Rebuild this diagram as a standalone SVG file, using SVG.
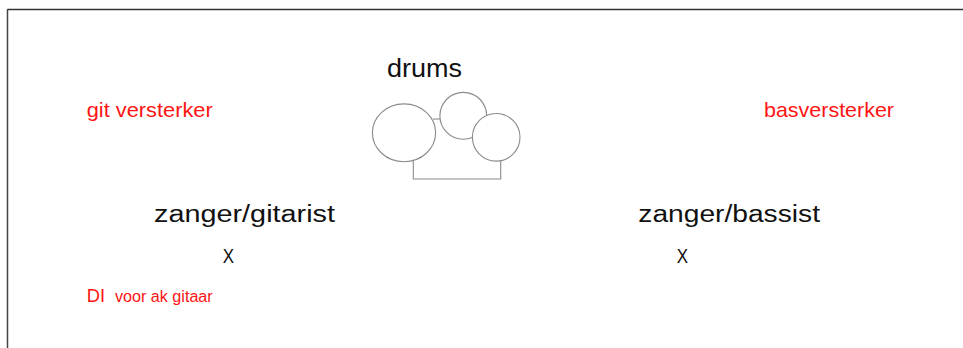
<svg xmlns="http://www.w3.org/2000/svg" width="963" height="348" viewBox="0 0 963 348">
  <style>
    text { font-family: "Liberation Sans", Arial, sans-serif; }
    .lbl { fill: #111111; }
    .red { fill: #ff1414; }
    .drum { fill: #ffffff; stroke: #8a8a8a; stroke-width: 1.1; }
    .rig { fill: none; stroke: #8a8a8a; stroke-width: 1.1; }
    .frame { stroke: #333333; stroke-width: 1.3; fill: none; }
  </style>
  <rect x="0" y="0" width="963" height="348" fill="#ffffff"/>
  <g id="frame">
    <line class="frame" x1="7.5" y1="9.5" x2="963" y2="9.5"/>
    <line class="frame" x1="7.5" y1="9" x2="7.5" y2="348" style="stroke:#444444;stroke-width:1.5"/>
  </g>
  <g id="connectors"></g>
  <g id="drums">
    <text class="lbl" x="387" y="77" font-size="25" textLength="75" lengthAdjust="spacingAndGlyphs">drums</text>
    <polyline class="rig" points="413.3,160 413.3,179 500.7,179 500.7,160"/>
    <line class="rig" x1="433" y1="119" x2="441" y2="119"/>
    <ellipse class="drum" cx="404" cy="132.8" rx="31.6" ry="28.9"/>
    <circle class="drum" cx="463.3" cy="115.8" r="23.4"/>
    <circle class="drum" cx="496.2" cy="137.3" r="23.8"/>
  </g>
  <g id="git-versterker">
    <text class="red" x="86.7" y="117" font-size="21" textLength="126" lengthAdjust="spacingAndGlyphs">git versterker</text>
  </g>
  <g id="basversterker">
    <text class="red" x="764" y="116.7" font-size="21" textLength="130" lengthAdjust="spacingAndGlyphs">basversterker</text>
  </g>
  <g id="zanger-gitarist">
    <text class="lbl" x="154" y="222.3" font-size="23" textLength="181" lengthAdjust="spacingAndGlyphs">zanger/gitarist</text>
    <text class="lbl" x="222.7" y="262.7" font-size="21" textLength="11.3" lengthAdjust="spacingAndGlyphs">X</text>
  </g>
  <g id="zanger-bassist">
    <text class="lbl" x="638.3" y="222.3" font-size="23" textLength="181.7" lengthAdjust="spacingAndGlyphs">zanger/bassist</text>
    <text class="lbl" x="676.7" y="262.7" font-size="21" textLength="11.3" lengthAdjust="spacingAndGlyphs">X</text>
  </g>
  <g id="di">
    <text class="red" x="86.7" y="301.7" font-size="18.7" textLength="18.3" lengthAdjust="spacingAndGlyphs">DI</text>
    <text class="red" x="115" y="301.7" font-size="16" textLength="97.7" lengthAdjust="spacingAndGlyphs">voor ak gitaar</text>
  </g>
</svg>
